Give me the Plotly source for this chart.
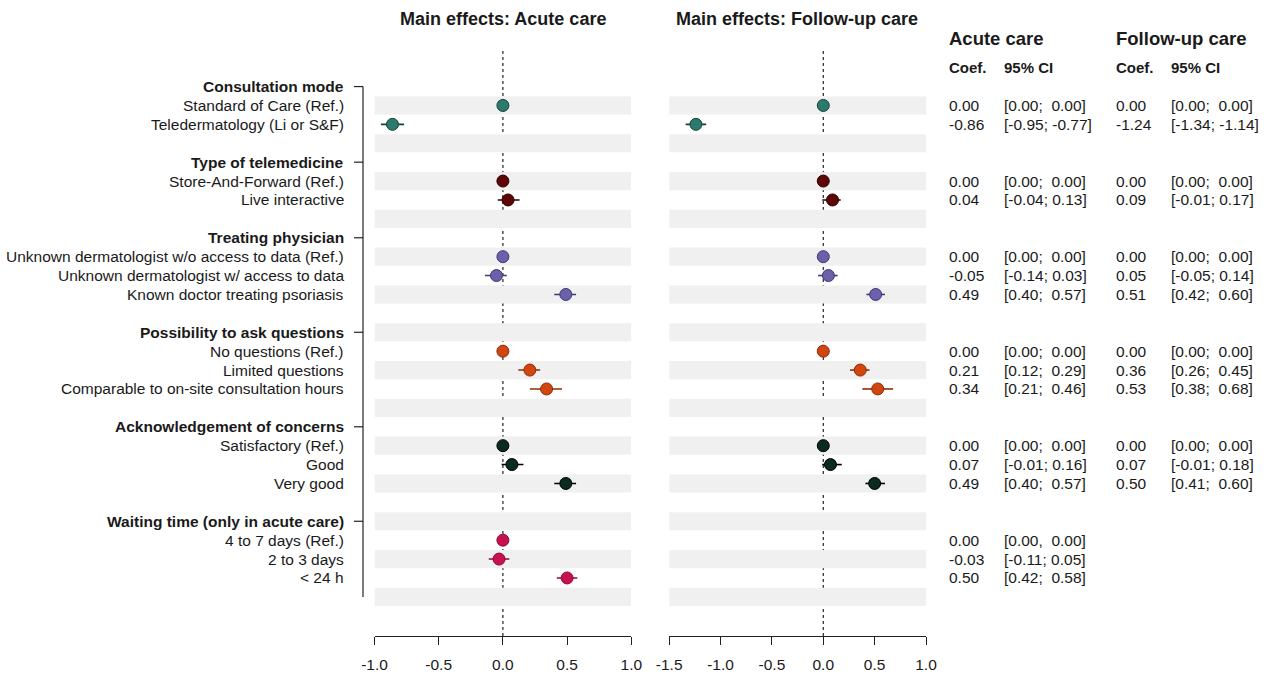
import plotly.graph_objects as go

# ---- data -------------------------------------------------------------
group_names = [
    "Consultation mode",
    "Type of telemedicine",
    "Treating physician",
    "Possibility to ask questions",
    "Acknowledgement of concerns",
    "Waiting time (only in acute care)",
]
group_levels = [
    ["Standard of Care (Ref.)", "Teledermatology (Li or S&F)"],
    ["Store-And-Forward (Ref.)", "Live interactive"],
    ["Unknown dermatologist w/o access to data (Ref.)",
     "Unknown dermatologist w/ access to data",
     "Known doctor treating psoriasis"],
    ["No questions (Ref.)", "Limited questions",
     "Comparable to on-site consultation hours"],
    ["Satisfactory (Ref.)", "Good", "Very good"],
    ["4 to 7 days (Ref.)", "2 to 3 days", "< 24 h"],
]
group_fill = ["#2b7b6c", "#5e0707", "#6a61aa", "#d14610", "#0c2a20", "#c8124f"]
group_edge = ["#173f37", "#2e0000", "#3f3778", "#8e2c06", "#000000", "#8a0a35"]

acute_coef = [0.00, -0.86, 0.00, 0.04, 0.00, -0.05, 0.49, 0.00, 0.21, 0.34,
              0.00, 0.07, 0.49, 0.00, -0.03, 0.50]
acute_lo = [0.00, -0.95, 0.00, -0.04, 0.00, -0.14, 0.40, 0.00, 0.12, 0.21,
            0.00, -0.01, 0.40, 0.00, -0.11, 0.42]
acute_hi = [0.00, -0.77, 0.00, 0.13, 0.00, 0.03, 0.57, 0.00, 0.29, 0.46,
            0.00, 0.16, 0.57, 0.00, 0.05, 0.58]
acute_sep = [";"] * 13 + [",", ";", ";"]

follow_coef = [0.00, -1.24, 0.00, 0.09, 0.00, 0.05, 0.51, 0.00, 0.36, 0.53,
               0.00, 0.07, 0.50]
follow_lo = [0.00, -1.34, 0.00, -0.01, 0.00, -0.05, 0.42, 0.00, 0.26, 0.38,
             0.00, -0.01, 0.41]
follow_hi = [0.00, -1.14, 0.00, 0.17, 0.00, 0.14, 0.60, 0.00, 0.45, 0.68,
             0.00, 0.18, 0.60]

x_ticks = [-1.5, -1.0, -0.5, 0.0, 0.5, 1.0]

# ---- row layout: header, levels, blank spacer --------------------------
header_rows, level_rows, level_group = [], [], []
r = 0
for gi, levels in enumerate(group_levels):
    header_rows.append(r)
    r += 1
    for _ in levels:
        level_rows.append(r)
        level_group.append(gi)
        r += 1
    r += 1
n_rows = r  # includes trailing spacer
last_row = n_rows - 1

W, H = 1266, 678
FONT = "Liberation Sans, Arial, Helvetica, sans-serif"
TXT = "#1a1a1a"


def px(xp):
    return xp / W


def py(yp):
    return 1 - yp / H


fig = go.Figure()

# ---- points with confidence intervals ---------------------------------
panels = [("x", acute_coef, acute_lo, acute_hi), ("x2", follow_coef, follow_lo, follow_hi)]
for xref, coef, lo, hi in panels:
    for gi in range(len(group_names)):
        idx = [k for k, g in enumerate(level_group) if g == gi and k < len(coef)]
        if not idx:
            continue
        fig.add_trace(go.Scatter(
            x=[coef[k] for k in idx],
            y=[level_rows[k] for k in idx],
            xaxis=xref, yaxis="y",
            mode="markers",
            marker=dict(size=12, color=group_fill[gi],
                        line=dict(color=group_edge[gi], width=1)),
            error_x=dict(type="data", symmetric=False,
                         array=[hi[k] - coef[k] for k in idx],
                         arrayminus=[coef[k] - lo[k] for k in idx],
                         color=group_edge[gi], thickness=1.6, width=0),
            showlegend=False, hoverinfo="skip",
        ))

shapes = []
# alternating background stripes
for xref, x0, x1 in [("x", -1.0, 1.0), ("x2", -1.5, 1.0)]:
    for i in range(1, n_rows, 2):
        shapes.append(dict(type="rect", xref=xref, yref="y", x0=x0, x1=x1,
                           y0=i - 0.48, y1=i + 0.48, fillcolor="#f0f0f0",
                           line=dict(width=0), layer="below"))
    # dotted reference line at zero
    shapes.append(dict(type="line", xref=xref, yref="y domain", x0=0, x1=0,
                       y0=0, y1=1, line=dict(color="#222222", width=1.2, dash="dot"),
                       layer="below"))

# left bracket axis with ticks at group headers
AX = 363
shapes.append(dict(type="line", xref="paper", yref="y", x0=px(AX), x1=px(AX),
                   y0=header_rows[0], y1=last_row, line=dict(color="#222222", width=1.2)))
for hr in header_rows:
    shapes.append(dict(type="line", xref="paper", yref="y", x0=px(AX - 9), x1=px(AX),
                       y0=hr, y1=hr, line=dict(color="#222222", width=1.2)))

annotations = []
# row labels
for gi, name in enumerate(group_names):
    annotations.append(dict(text="<b>%s</b>" % name, xref="paper", yref="y",
                            x=px(346), y=header_rows[gi], xanchor="right",
                            yanchor="middle", showarrow=False,
                            font=dict(size=15.5, color=TXT, family=FONT)))
k = 0
for gi, levels in enumerate(group_levels):
    for lab in levels:
        annotations.append(dict(text=lab, xref="paper", yref="y",
                                x=px(346), y=level_rows[k], xanchor="right",
                                yanchor="middle", showarrow=False,
                                font=dict(size=15.5, color=TXT, family=FONT)))
        k += 1

# panel titles
for text, xc in [("Main effects: Acute care", 502.7), ("Main effects: Follow-up care", 797)]:
    annotations.append(dict(text="<b>%s</b>" % text, xref="paper", yref="paper",
                            x=px(xc), y=py(19), xanchor="center", yanchor="middle",
                            showarrow=False, font=dict(size=18, color=TXT, family=FONT)))

# coefficient table
NB = "\u00a0"


def ci_text(lo, hi, sep):
    pad = NB * (2 if lo >= 0 else 1)
    return "[%.2f%s%s%.2f]" % (lo, sep, pad, hi)


tables = [
    ("Acute care", 948, 1003, acute_coef, acute_lo, acute_hi, acute_sep),
    ("Follow-up care", 1115, 1170, follow_coef, follow_lo, follow_hi, [";"] * len(follow_coef)),
]
for title, xc, xi, coef, lo, hi, sep in tables:
    annotations.append(dict(text="<b>%s</b>" % title, xref="paper", yref="paper",
                            x=px(xc - 1), y=py(39), xanchor="left", yanchor="middle",
                            showarrow=False, font=dict(size=18.5, color=TXT, family=FONT)))
    annotations.append(dict(text="<b>Coef.</b>", xref="paper", yref="paper",
                            x=px(xc - 1), y=py(68), xanchor="left", yanchor="middle",
                            showarrow=False, font=dict(size=15, color=TXT, family=FONT)))
    annotations.append(dict(text="<b>95% CI</b>", xref="paper", yref="paper",
                            x=px(xi - 1), y=py(68), xanchor="left", yanchor="middle",
                            showarrow=False, font=dict(size=15, color=TXT, family=FONT)))
    for j in range(len(coef)):
        annotations.append(dict(text="%.2f" % coef[j], xref="paper", yref="y",
                                x=px(xc - 1), y=level_rows[j], xanchor="left",
                                yanchor="middle", showarrow=False,
                                font=dict(size=15.5, color=TXT, family=FONT)))
        annotations.append(dict(text=ci_text(lo[j], hi[j], sep[j]), xref="paper", yref="y",
                                x=px(xi - 1), y=level_rows[j], xanchor="left",
                                yanchor="middle", showarrow=False,
                                font=dict(size=15.5, color=TXT, family=FONT)))

axis_common = dict(showline=True, linecolor="#222222", linewidth=1.2,
                   ticks="outside", ticklen=8, tickcolor="#222222", tickwidth=1.2,
                   showgrid=False, zeroline=False, anchor="y", automargin=False,
                   tickfont=dict(size=15.5, color=TXT, family=FONT),
                   ticklabelstandoff=6)

fig.update_layout(
    template="none",
    width=W, height=H, autosize=False,
    margin=dict(l=0, r=0, t=0, b=0, pad=0, autoexpand=False),
    paper_bgcolor="white", plot_bgcolor="rgba(0,0,0,0)",
    showlegend=False,
    xaxis=dict(domain=[px(374.5), px(631.3)], range=[-1.0, 1.0],
               tickvals=[v for v in x_ticks if v >= -1.0],
               ticktext=["%.1f" % v for v in x_ticks if v >= -1.0], **axis_common),
    xaxis2=dict(domain=[px(669.2), px(926)], range=[-1.5, 1.0],
                tickvals=x_ticks, ticktext=["%.1f" % v for v in x_ticks], **axis_common),
    yaxis=dict(domain=[py(636), py(48)], range=[29.07, -2.04], visible=False,
               fixedrange=True, automargin=False),
    shapes=shapes,
    annotations=annotations,
)

fig.write_html("out.html")
